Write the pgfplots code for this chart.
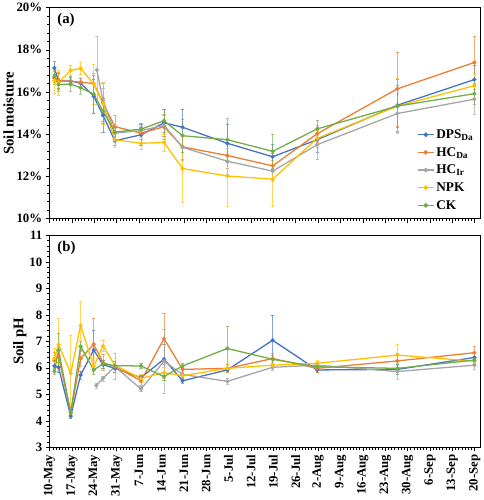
\documentclass[border=0pt]{standalone}
\usepackage{pgfplots}
\pgfplotsset{compat=1.18}
\usepackage{fontspec}
\setmainfont{Liberation Serif}
\definecolor{cB}{HTML}{4472C4}
\definecolor{cO}{HTML}{ED7D31}
\definecolor{cG}{HTML}{A5A5A5}
\definecolor{cY}{HTML}{FFC000}
\definecolor{cK}{HTML}{70AD47}
\pgfplotsset{
  base/.style={
    width=437pt, scale only axis,
    xmin=0, xmax=134.8,
    xtick={0,7,...,133}, minor x tick num=6,
    xtick pos=bottom, ytick pos=left,
    tick align=outside,
    major tick length=4pt, minor tick length=2.5pt,
    every tick/.style={black, line width=0.6pt},
    axis line style={line width=0.8pt},
    ticklabel style={font=\fontsize{13}{15}\selectfont\bfseries},
    ylabel style={font=\fontsize{15}{17}\selectfont\bfseries},
    /pgf/number format/assume math mode=true,
    clip=false,
  },
  ser/.style={color=#1, line width=1.3pt, mark=*, mark size=1.4pt,
    mark options={fill=#1, draw=#1},
    error bars/.cd, y dir=both, y explicit,
    error bar style={color=#1, line width=0.5pt, opacity=0.65},
    error mark options={rotate=90, mark size=1.6pt, color=#1, opacity=0.65, line width=0.5pt}},
}
\begin{document}
\begin{tikzpicture}
\begin{axis}[base, name=a, height=214pt,
  ymin=10, ymax=20, ytick={10,12,...,20}, minor y tick num=4,
  yticklabel={\pgfmathprintnumber{\tick}\%},
  xticklabels={},
  ylabel={Soil moisture}, ylabel style={yshift=-4pt},
  legend style={at={(rel axis cs:1,0)}, anchor=south east, draw=none, fill=none,
    font=\fontsize{13.5}{15}\selectfont\bfseries, row sep=3.5pt, xshift=-2pt, yshift=4pt},
  legend cell align=left,
  legend image code/.code={\draw[#1, line width=1.3pt] (0pt,0pt) -- (16pt,0pt); \fill[#1] (8pt,0pt) circle (1.6pt);},
]
\node[anchor=north west, font=\fontsize{15}{17}\selectfont\bfseries] at (rel axis cs:0.01,0.99) {(a)};
\addplot+[ser=cB] coordinates {
(1.5,17.14) +- (0,0.3) (2.8,16.52) +- (0,0.35) (6.6,16.52) +- (0,0.2) (9.7,16.42) +- (0,0.25)
(13.8,15.8) +- (0,0.8) (16.7,14.9) +- (0,0.8) (20.4,13.69) +- (0,0.2) (28.6,13.97) +- (0,0.5)
(35.8,14.54) +- (0,0.65) (41.6,14.33) +- (0,0.85) (55.6,13.57) +- (0,0.9) (69.8,12.93) +- (0,0.6)
(83.7,13.74) +- (0,0.6) (108.8,15.37) +- (0,1.25) (132.9,16.59) +- (0,0.7)};
\addlegendentry{DPS\textsubscript{Da}}
\addplot+[ser=cO] coordinates {
(1.5,16.67) +- (0,0.3) (2.8,16.54) +- (0,0.4) (6.6,16.5) +- (0,0.2) (9.7,16.47) +- (0,0.2)
(13.8,16.4) +- (0,0.5) (16.7,15.5) +- (0,0.9) (20.4,14.36) +- (0,0.55) (28.6,14.05) +- (0,0.3)
(35.8,14.35) +- (0,0.6) (41.6,13.4) +- (0,0.6) (55.6,12.99) +- (0,0.6) (69.8,12.5) +- (0,0.6)
(83.7,14.02) +- (0,0.4) (108.8,16.15) +- (0,1.75) (132.9,17.4) +- (0,1.25)};
\addlegendentry{HC\textsubscript{Da}}
\addplot+[ser=cG] coordinates {
(14.8,17.04) +- (0,1.6) (16.7,15.6) +- (0,0.6) (20.4,14.05) +- (0,0.3) (28.6,14.17) +- (0,0.2)
(35.8,14.42) +- (0,0.5) (41.6,13.38) +- (0,0.6) (55.6,12.72) +- (0,0.6) (69.8,12.25) +- (0,0.5)
(83.7,13.5) +- (0,0.7) (108.8,14.98) +- (0,0.9) (132.9,15.66) +- (0,0.7)};
\addlegendentry{HC\textsubscript{Ir}}
\addplot+[ser=cY] coordinates {
(1.5,16.55) +- (0,0.6) (2.8,16.45) +- (0,0.6) (6.6,17.03) +- (0,0.25) (9.7,17.12) +- (0,0.3)
(13.8,16.38) +- (0,0.95) (16.7,15.45) +- (0,1.0) (20.4,13.74) +- (0,0.35) (28.6,13.57) +- (0,0.3)
(35.8,13.61) +- (0,0.4) (41.6,12.37) +- (0,1.6) (55.6,12.02) +- (0,1.45) (69.8,11.87) +- (0,1.3)
(83.7,13.8) +- (0,0.4) (108.8,15.33) +- (0,1.3) (132.9,16.3) +- (0,0.6)};
\addlegendentry{NPK}
\addplot+[ser=cK] coordinates {
(1.5,16.75) +- (0,0.3) (2.8,16.35) +- (0,0.3) (6.6,16.38) +- (0,0.35) (9.7,16.2) +- (0,0.3)
(13.8,15.9) +- (0,0.9) (16.7,15.1) +- (0,0.6) (20.4,14.1) +- (0,0.3) (28.6,14.24) +- (0,0.3)
(35.8,14.64) +- (0,0.55) (41.6,13.93) +- (0,0.8) (55.6,13.74) +- (0,1.0) (69.8,13.19) +- (0,0.8)
(83.7,14.25) +- (0,0.4) (108.8,15.33) +- (0,1.0) (132.9,15.92) +- (0,0.5)};
\addlegendentry{CK}
\end{axis}
\begin{axis}[base, at={(a.south west)}, anchor=north west, yshift=-17pt, height=215pt,
  ymin=3, ymax=11, ytick={3,4,...,11}, minor y tick num=4,
  xticklabels={10-May,17-May,24-May,31-May,7-Jun,14-Jun,21-Jun,28-Jun,5-Jul,12-Jul,19-Jul,26-Jul,2-Aug,9-Aug,16-Aug,23-Aug,30-Aug,6-Sep,13-Sep,20-Sep},
  xticklabel style={rotate=90, anchor=east},
  ylabel={Soil pH}, ylabel style={yshift=-4pt},
]
\node[anchor=north west, font=\fontsize{15}{17}\selectfont\bfseries] at (rel axis cs:0.01,0.99) {(b)};
\addplot+[ser=cB] coordinates {
(1.5,6.07) +- (0,0.2) (2.8,6.02) +- (0,0.2) (6.6,4.18) +- (0,0.1) (9.7,5.73) +- (0,0.15)
(13.8,6.67) +- (0,0.75) (16.7,6.12) +- (0,0.15) (20.4,5.98) +- (0,0.15) (28.6,5.63) +- (0,0.1)
(35.8,6.33) +- (0,0.55) (41.6,5.51) +- (0,0.1) (55.6,5.92) +- (0,0.1) (69.8,7.04) +- (0,0.95)
(83.7,5.92) +- (0,0.1) (108.8,5.94) +- (0,0.2) (132.9,6.39) +- (0,0.2)};
\addplot+[ser=cO] coordinates {
(1.5,6.29) +- (0,0.3) (2.8,6.45) +- (0,0.4) (6.6,4.3) +- (0,0.2) (9.7,6.35) +- (0,0.3)
(13.8,6.89) +- (0,1.0) (16.7,6.2) +- (0,0.3) (20.4,6.05) +- (0,0.2) (28.6,5.51) +- (0,0.15)
(35.8,7.1) +- (0,0.95) (41.6,5.94) +- (0,0.1) (55.6,5.98) +- (0,0.15) (69.8,6.35) +- (0,0.2)
(83.7,5.98) +- (0,0.15) (108.8,6.26) +- (0,0.3) (132.9,6.57) +- (0,0.25)};
\addplot+[ser=cG] coordinates {
(14.6,5.33) +- (0,0.1) (16.7,5.6) +- (0,0.1) (20.4,6.05) +- (0,0.5) (28.6,5.2) +- (0,0.1)
(35.8,6.25) +- (0,1.2) (41.6,5.75) +- (0,0.1) (55.6,5.49) +- (0,0.1) (69.8,6.02) +- (0,0.1)
(83.7,6.1) +- (0,0.1) (108.8,5.86) +- (0,0.3) (132.9,6.1) +- (0,0.15)};
\addplot+[ser=cY] coordinates {
(1.5,6.35) +- (0,0.4) (2.8,6.88) +- (0,1.0) (6.6,5.79) +- (0,1.45) (9.7,7.6) +- (0,0.9)
(13.8,6.05) +- (0,0.3) (16.7,6.83) +- (0,0.22) (20.4,6.1) +- (0,0.15) (28.6,5.6) +- (0,0.15)
(35.8,5.82) +- (0,0.2) (41.6,5.7) +- (0,0.15) (55.6,5.98) +- (0,0.15) (69.8,6.1) +- (0,0.15)
(83.7,6.17) +- (0,0.1) (108.8,6.48) +- (0,0.4) (132.9,6.25) +- (0,0.15)};
\addplot+[ser=cK] coordinates {
(1.5,5.86) +- (0,0.1) (2.8,6.66) +- (0,0.65) (6.6,4.3) +- (0,0.2) (9.7,6.81) +- (0,0.2)
(13.8,5.92) +- (0,0.15) (16.7,6.15) +- (0,0.15) (20.4,6.08) +- (0,0.15) (28.6,6.07) +- (0,0.1)
(35.8,5.67) +- (0,0.15) (41.6,6.07) +- (0,0.1) (55.6,6.73) +- (0,0.85) (69.8,6.32) +- (0,0.15)
(83.7,6.04) +- (0,0.1) (108.8,5.98) +- (0,0.15) (132.9,6.29) +- (0,0.15)};
\end{axis}
\end{tikzpicture}
\end{document}
